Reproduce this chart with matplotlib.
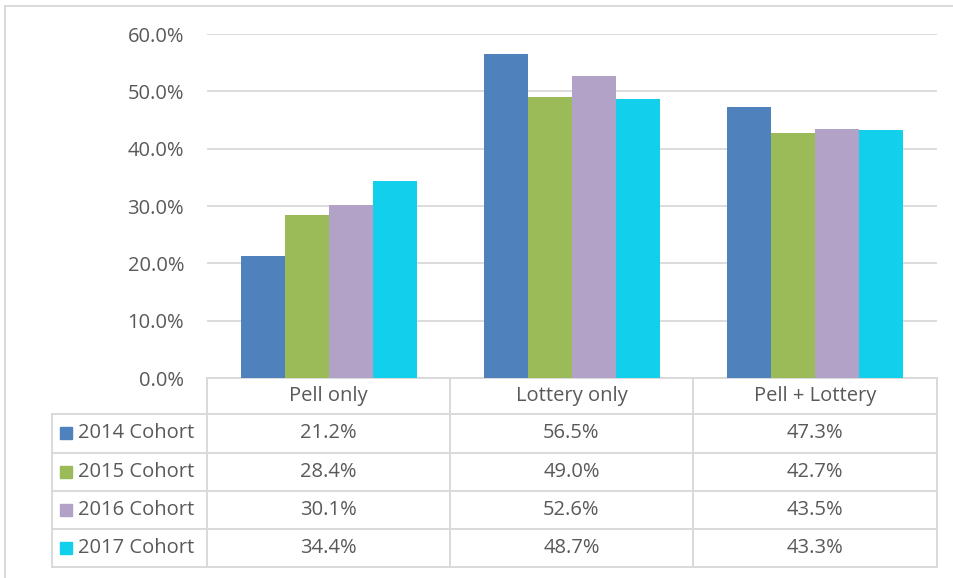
import matplotlib.pyplot as plt
import numpy as np
from matplotlib.lines import Line2D
from matplotlib.patches import Rectangle

categories = ["Pell only", "Lottery only", "Pell + Lottery"]
cohorts = ["2014 Cohort", "2015 Cohort", "2016 Cohort", "2017 Cohort"]
values_2014 = [21.2, 56.5, 47.3]
values_2015 = [28.4, 49.0, 42.7]
values_2016 = [30.1, 52.6, 43.5]
values_2017 = [34.4, 48.7, 43.3]
series = [values_2014, values_2015, values_2016, values_2017]
colors = ["#4F81BD", "#9BBB59", "#B3A2C7", "#12CFEB"]
yticks = [0, 10, 20, 30, 40, 50, 60]

W, H = 954, 578
fig = plt.figure(figsize=(W / 100, H / 100), dpi=100)
plt.rcParams['font.family'] = ['Open Sans', 'DejaVu Sans']

# plot area in pixels
px_l, px_r, px_t, px_b = 207, 937, 34, 378
ax = fig.add_axes([px_l / W, 1 - px_b / H, (px_r - px_l) / W, (px_b - px_t) / H])

grid_c = "#D9D9D9"
text_c = "#595959"
fs = 14.5

x = np.arange(len(categories)) + 0.5
bw = 44 / 243.3
for k, vals in enumerate(series):
    ax.bar(x + (k - 1.5) * bw, vals, width=bw, color=colors[k], zorder=3)

ax.set_xlim(0, 3)
ax.set_ylim(0, 60)
ax.set_yticks(yticks)
ax.set_yticklabels([f"{t:.1f}%" for t in yticks], fontsize=fs, color=text_c)
ax.tick_params(axis='y', length=0, pad=16.5)
ax.set_xticks([])
for s in ax.spines.values():
    s.set_visible(False)
ax.yaxis.grid(True, color=grid_c, linewidth=1.3, zorder=0)
ax.set_axisbelow(True)

# data table below the plot (axes coords)
def ax_y(py):
    return (px_b - py) / (px_b - px_t)

def ax_x(px):
    return (px - px_l) / (px_r - px_l)

row_edges = [378, 414, 452.5, 491, 529, 567]
col_edges = [51.5, 207, 450, 693, 937]
lw = 1.4
tr = ax.transAxes
# horizontal lines
for i, py in enumerate(row_edges):
    x0 = col_edges[1] if i == 0 else col_edges[0]
    ax.add_line(Line2D([ax_x(x0), ax_x(col_edges[-1])], [ax_y(py)] * 2, transform=tr,
                       color=grid_c, lw=lw, clip_on=False, zorder=1))
# vertical lines
for j, px in enumerate(col_edges):
    y0 = row_edges[1] if j == 0 else row_edges[0]
    ax.add_line(Line2D([ax_x(px)] * 2, [ax_y(y0), ax_y(row_edges[-1])], transform=tr,
                       color=grid_c, lw=lw, clip_on=False, zorder=1))

# header
for j, cat in enumerate(categories):
    cx = (col_edges[j + 1] + col_edges[j + 2]) / 2
    cy = (row_edges[0] + row_edges[1]) / 2
    ax.text(ax_x(cx), ax_y(cy), cat, transform=tr, ha='center', va='center',
            fontsize=fs, color=text_c, clip_on=False)

# rows
for k, (name, vals) in enumerate(zip(cohorts, series)):
    cy = (row_edges[k + 1] + row_edges[k + 2]) / 2
    ax.add_patch(Rectangle((ax_x(60), ax_y(cy + 6)), 12 / (px_r - px_l), 12 / (px_b - px_t),
                           transform=tr, color=colors[k], clip_on=False))
    ax.text(ax_x(78), ax_y(cy), name, transform=tr, ha='left', va='center',
            fontsize=fs, color=text_c, clip_on=False)
    for j, v in enumerate(vals):
        cx = (col_edges[j + 1] + col_edges[j + 2]) / 2
        ax.text(ax_x(cx), ax_y(cy), f"{v:.1f}%", transform=tr, ha='center', va='center',
                fontsize=fs, color=text_c, clip_on=False)

# outer frame (top and left only)
fig.add_artist(Line2D([5.5 / W, 1], [1 - 5.5 / H] * 2, color=grid_c, lw=lw))
fig.add_artist(Line2D([5.5 / W] * 2, [0, 1 - 5.5 / H], color=grid_c, lw=lw))

fig.savefig("out.png", dpi=100)
